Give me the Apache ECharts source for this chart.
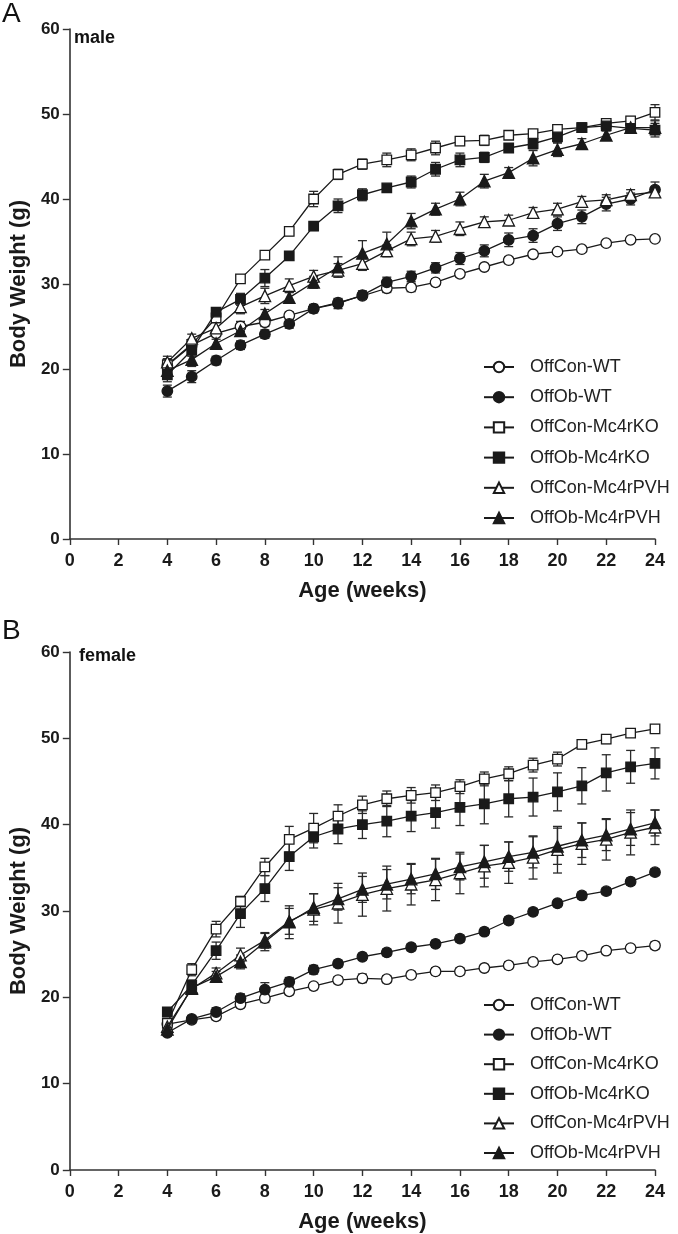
<!DOCTYPE html>
<html>
<head>
<meta charset="utf-8">
<script src="https://cdn.jsdelivr.net/npm/echarts@6/dist/echarts.min.js"></script>
<style>
html,body{margin:0;padding:0;background:#fff;}
#chart{width:678px;height:1234px;}
</style>
</head>
<body>
<div id="chart"></div>
<script>
// ---- data ----
var weeks = [4,5,6,7,8,9,10,11,12,13,14,15,16,17,18,19,20,21,22,23,24];
var seriesNames = ['OffCon-WT','OffOb-WT','OffCon-Mc4rKO','OffOb-Mc4rKO','OffCon-Mc4rPVH','OffOb-Mc4rPVH'];
var xTicks = [0,2,4,6,8,10,12,14,16,18,20,22,24];
var yTicks = [0,10,20,30,40,50,60];

// male (panel A) means
var mConWT  = [20.4,22.8,24.2,25.0,25.5,26.3,27.1,27.8,28.6,29.5,29.6,30.2,31.2,32.0,32.8,33.5,33.8,34.1,34.8,35.2,35.3];
var mObWT   = [17.4,19.1,21.0,22.8,24.1,25.3,27.1,27.7,28.7,30.2,30.9,31.9,33.0,33.9,35.2,35.7,37.1,37.9,39.4,40.0,41.1];
var mConKO  = [20.5,22.9,26.0,30.6,33.4,36.2,40.0,42.9,44.1,44.6,45.2,46.0,46.8,46.9,47.5,47.7,48.2,48.4,48.9,49.2,50.2];
var mObKO   = [19.3,22.2,26.7,28.2,30.7,33.3,36.8,39.2,40.5,41.3,42.0,43.5,44.6,44.9,46.0,46.5,47.3,48.4,48.6,48.3,48.1];
var mConPVH = [20.8,23.6,24.8,27.3,28.6,29.8,30.9,31.6,32.4,33.9,35.3,35.6,36.5,37.3,37.5,38.4,38.8,39.7,39.9,40.5,40.8];
var mObPVH  = [19.8,21.1,23.0,24.5,26.5,28.4,30.2,32.0,33.6,34.7,37.4,38.8,40.0,42.1,43.1,44.8,45.8,46.5,47.5,48.4,48.4];
// male SEM
var mConWTe  = [0.8,0.5,0.4,0.6,0.5,0.4,0.4,0.4,0.4,0.5,0.5,0.4,0.4,0.4,0.4,0.3,0.3,0.3,0.3,0.3,0.3];
var mObWTe   = [0.7,0.7,0.5,0.5,0.5,0.5,0.5,0.6,0.5,0.6,0.6,0.6,0.7,0.7,0.8,0.8,0.8,0.8,0.8,0.7,0.9];
var mConKOe  = [0.7,0.6,0.5,0.5,0.4,0.5,0.9,0.6,0.6,0.8,0.7,0.8,0.5,0.6,0.4,0.4,0.4,0.4,0.4,0.5,0.9];
var mObKOe   = [0.8,0.7,0.5,0.7,1.0,0.5,0.5,0.8,0.7,0.4,0.7,0.8,0.8,0.6,0.5,0.6,0.7,0.5,0.4,0.5,0.8];
var mConPVHe = [0.7,0.5,0.8,0.8,0.9,0.8,0.7,0.8,0.8,0.7,0.8,0.7,0.8,0.6,0.6,0.6,0.7,0.6,0.6,0.6,0.6];
var mObPVHe  = [0.6,0.8,0.5,0.6,0.5,0.6,0.7,1.2,1.5,1.4,0.9,0.7,0.8,0.8,0.6,0.9,0.8,0.6,0.5,0.5,0.8];

// female (panel B) means
var fConWT  = [16.9,17.4,17.8,19.2,19.9,20.7,21.3,22.0,22.2,22.1,22.6,23.0,23.0,23.4,23.7,24.1,24.4,24.8,25.4,25.7,26.0];
var fObWT   = [15.9,17.5,18.3,19.9,20.9,21.8,23.2,23.9,24.7,25.2,25.8,26.2,26.8,27.6,28.9,29.9,30.9,31.8,32.3,33.4,34.5];
var fConKO  = [17.0,23.2,27.9,31.1,35.1,38.3,39.6,41.0,42.3,43.0,43.4,43.7,44.4,45.3,45.9,46.9,47.6,49.3,49.9,50.6,51.1];
var fObKO   = [18.3,21.4,25.4,29.7,32.6,36.3,38.6,39.5,40.0,40.4,41.0,41.4,42.0,42.4,43.0,43.2,43.8,44.5,46.0,46.7,47.1];
var fConPVH = [16.6,21.0,22.8,24.9,26.6,28.8,30.2,30.9,31.9,32.6,33.1,33.6,34.4,35.2,35.6,36.2,37.1,37.8,38.3,39.1,39.7];
var fObPVH  = [16.3,21.1,22.4,24.1,26.4,28.7,30.4,31.4,32.5,33.1,33.7,34.3,35.1,35.7,36.3,36.8,37.5,38.2,38.8,39.5,40.2];
// female SEM
var fConWTe  = [0.5,0.4,0.4,0.4,0.5,0.4,0.4,0.4,0.5,0.4,0.4,0.4,0.4,0.4,0.4,0.4,0.4,0.4,0.4,0.4,0.4];
var fObWTe   = [0.4,0.4,0.5,0.5,0.8,0.5,0.5,0.4,0.4,0.4,0.4,0.4,0.4,0.4,0.4,0.4,0.4,0.4,0.4,0.4,0.4];
var fConKOe  = [0.5,0.7,0.9,0.6,1.0,1.5,1.7,1.3,1.0,0.9,0.9,0.9,0.8,0.8,0.8,0.8,0.8,0.5,0.5,0.4,0.4];
var fObKOe   = [0.5,0.6,1.0,1.6,1.5,1.6,1.3,1.7,1.6,1.8,1.8,1.8,2.1,2.3,2.1,2.2,2.2,2.1,2.1,1.9,1.8];
var fConPVHe = [0.5,0.6,0.6,0.8,0.9,1.5,1.8,2.3,2.5,2.6,2.4,2.4,2.4,2.4,2.4,2.5,2.7,2.4,2.4,2.6,2.0];
var fObPVHe  = [0.5,0.6,0.6,0.8,1.0,1.9,1.6,1.3,1.5,1.7,1.7,1.8,1.5,1.9,1.7,1.8,2.1,2.0,1.8,1.9,1.5];

// ---- build ----
var FONT = "'Liberation Sans', Arial, Helvetica, sans-serif";
var INK = '#1a1a1a';
var styles = [
  {symbol:'circle',   size:10.5, fill:'#ffffff'},
  {symbol:'circle',   size:10.5, fill:INK},
  {symbol:'rect',     size:9.5,  fill:'#ffffff'},
  {symbol:'rect',     size:9.5,  fill:INK},
  {symbol:'triangle', size:11.5, fill:'#ffffff'},
  {symbol:'triangle', size:11.5, fill:INK}
];
var panels = [
  {means:[mConWT,mObWT,mConKO,mObKO,mConPVH,mObPVH], errs:[mConWTe,mObWTe,mConKOe,mObKOe,mConPVHe,mObPVHe]},
  {means:[fConWT,fObWT,fConKO,fObKO,fConPVH,fObPVH], errs:[fConWTe,fObWTe,fConKOe,fObKOe,fConPVHe,fObPVHe]}
];

function errRender(params, api){
  var x = api.value(0), v = api.value(1), e = api.value(2);
  var top = api.coord([x, v + e]);
  var bot = api.coord([x, v - e]);
  var hw = 4.5;
  var st = {stroke:'#2a2a2a', lineWidth:1.3};
  return {type:'group', children:[
    {type:'line', shape:{x1:top[0], y1:top[1], x2:bot[0], y2:bot[1]}, style:st},
    {type:'line', shape:{x1:top[0]-hw, y1:top[1], x2:top[0]+hw, y2:top[1]}, style:st},
    {type:'line', shape:{x1:bot[0]-hw, y1:bot[1], x2:bot[0]+hw, y2:bot[1]}, style:st}
  ]};
}

var series = [];
panels.forEach(function(p, pi){
  p.means.forEach(function(arr, si){
    var errData = weeks.map(function(w, i){ return [w, arr[i], p.errs[si][i]]; });
    series.push({
      type:'custom', name:seriesNames[si]+'-err', xAxisIndex:pi, yAxisIndex:pi,
      renderItem:errRender, data:errData, encode:{x:0, y:1}, z:2, silent:true
    });
  });
  p.means.forEach(function(arr, si){
    var st = styles[si];
    series.push({
      type:'line', name:seriesNames[si], xAxisIndex:pi, yAxisIndex:pi,
      data: weeks.map(function(w, i){ return [w, arr[i]]; }),
      symbol:st.symbol, symbolSize:st.size, showAllSymbol:true,
      lineStyle:{color:INK, width:1.3},
      itemStyle:{color:st.fill, borderColor:INK, borderWidth:1.3},
      z:3 + si
    });
  });
});

function xAxis(gi){
  return {
    type:'value', gridIndex:gi, min:xTicks[0], max:xTicks[xTicks.length-1], interval:2,
    name:'Age (weeks)', nameLocation:'middle', nameGap:41,
    nameTextStyle:{fontFamily:FONT, fontWeight:'bold', fontSize:22, color:INK},
    axisLine:{onZero:false, lineStyle:{color:'#333', width:1.6}},
    axisTick:{length:6, lineStyle:{color:'#333', width:1.4}},
    axisLabel:{fontFamily:FONT, fontWeight:'bold', fontSize:18, color:INK, margin:13},
    splitLine:{show:false}
  };
}
function yAxis(gi){
  return {
    type:'value', gridIndex:gi, min:yTicks[0], max:yTicks[yTicks.length-1], interval:10,
    name:'Body Weight (g)', nameLocation:'middle', nameGap:38,
    nameTextStyle:{fontFamily:FONT, fontWeight:'bold', fontSize:22, color:INK},
    axisLine:{show:true, lineStyle:{color:'#333', width:1.6}},
    axisTick:{show:true, length:7, lineStyle:{color:'#333', width:1.4}},
    axisLabel:{fontFamily:FONT, fontWeight:'bold', fontSize:17, color:INK, margin:10},
    splitLine:{show:false}
  };
}
function legend(top, gap){
  return {
    orient:'vertical', left:478, top:top, itemWidth:30, itemHeight:13, itemGap:gap,
    selectedMode:false, data:seriesNames.slice(),
    textStyle:{fontFamily:FONT, fontSize:18, color:'#222', lineHeight:18, padding:[0,0,0,11]}
  };
}

var option = {
  animation:false,
  backgroundColor:'#ffffff',
  grid:[
    {left:62, top:29, width:593, height:510},
    {left:62, top:652, width:593, height:519}
  ],
  xAxis:[xAxis(0), xAxis(1)],
  yAxis:[yAxis(0), yAxis(1)],
  legend:[legend(353, 12.2), legend(991, 11.6)],
  graphic:[
    {type:'text', left:2, top:0, style:{text:'A', font:'28px '+FONT, fill:'#111'}},
    {type:'text', left:74, top:29, style:{text:'male', font:'bold 18px '+FONT, fill:'#111'}},
    {type:'text', left:2, top:617, style:{text:'B', font:'28px '+FONT, fill:'#111'}},
    {type:'text', left:79, top:647, style:{text:'female', font:'bold 18px '+FONT, fill:'#111'}}
  ],
  series:series
};

var chart = echarts.init(document.getElementById('chart'), null, {renderer:'canvas'});
chart.setOption(option);
</script>
</body>
</html>
